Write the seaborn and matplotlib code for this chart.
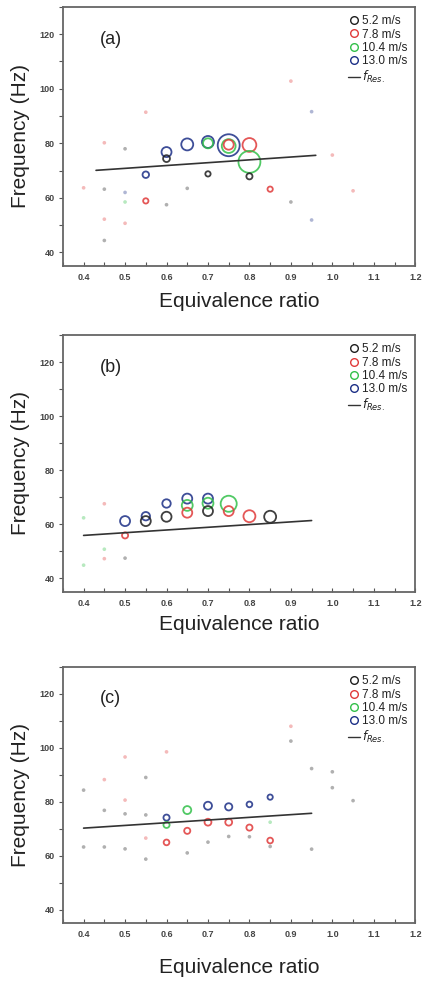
import matplotlib
matplotlib.use("Agg")
import matplotlib.pyplot as plt
from matplotlib.lines import Line2D
from matplotlib.ticker import MultipleLocator
import seaborn as sns
import pandas as pd

sns.set_style("ticks")
plt.rcParams['font.family'] = ['Liberation Sans', 'DejaVu Sans']

speeds = [5.2, 7.8, 10.4, 13.0]
speed_labels = ["5.2 m/s", "7.8 m/s", "10.4 m/s", "13.0 m/s"]
colors = ["#1e1e1e", "#e03a3a", "#33c04a", "#1c2f86"]

# panel (a) - dominant peaks
a_phi = [0.55, 0.60, 0.60, 0.65, 0.70, 0.70, 0.75, 0.75, 0.75, 0.80, 0.80, 0.80, 0.70, 0.55, 0.85]
a_freq = [68.5, 76.8, 74.4, 79.6, 80.5, 80.0, 79.3, 79.0, 79.5, 79.4, 73.2, 67.9, 68.8, 58.9, 63.2]
a_speed = [13.0, 13.0, 5.2, 13.0, 13.0, 10.4, 13.0, 10.4, 7.8, 7.8, 10.4, 5.2, 5.2, 7.8, 7.8]
a_amp = [1.4, 2.6, 1.5, 3.5, 3.5, 2.6, 10.6, 4.5, 2.6, 4.5, 10.6, 1.3, 1.1, 1.1, 1.1]
# panel (a) - weak peaks
a_dot_phi = [0.45, 0.50, 0.50, 0.60, 0.65, 0.90, 0.95, 0.90, 0.95, 0.55, 0.50, 0.45, 1.00, 1.05, 0.45, 0.50, 0.45, 0.40]
a_dot_freq = [63.2, 62.0, 58.5, 57.5, 63.5, 58.5, 51.9, 102.8, 91.6, 91.4, 78.0, 80.2, 75.7, 62.6, 52.2, 50.7, 44.4, 63.7]
a_dot_speed = [5.2, 13.0, 10.4, 5.2, 5.2, 5.2, 13.0, 7.8, 13.0, 7.8, 5.2, 7.8, 7.8, 7.8, 7.8, 7.8, 5.2, 7.8]
a_res_phi = [0.43, 0.96]
a_res_freq = [70.1, 75.6]

# panel (b)
b_phi = [0.50, 0.50, 0.55, 0.55, 0.60, 0.60, 0.65, 0.65, 0.65, 0.70, 0.70, 0.70, 0.75, 0.75, 0.80, 0.85]
b_freq = [61.2, 55.9, 63.0, 61.2, 67.7, 62.8, 69.5, 67.0, 64.3, 69.5, 67.8, 64.9, 67.6, 64.9, 63.0, 62.8]
b_speed = [13.0, 7.8, 13.0, 5.2, 13.0, 5.2, 13.0, 10.4, 7.8, 13.0, 10.4, 5.2, 10.4, 7.8, 7.8, 5.2]
b_amp = [2.6, 1.3, 2.0, 2.6, 2.0, 2.6, 2.6, 3.0, 2.6, 2.6, 3.0, 2.6, 5.9, 2.6, 3.5, 3.5]
b_dot_phi = [0.40, 0.45, 0.45, 0.45, 0.50, 0.40]
b_dot_freq = [62.4, 67.6, 50.8, 47.3, 47.5, 44.9]
b_dot_speed = [10.4, 7.8, 10.4, 7.8, 5.2, 10.4]
b_res_phi = [0.40, 0.95]
b_res_freq = [55.9, 61.4]

# panel (c)
c_phi = [0.60, 0.60, 0.65, 0.70, 0.75, 0.70, 0.75, 0.65, 0.60, 0.80, 0.85, 0.80, 0.85]
c_freq = [74.1, 71.4, 76.9, 78.5, 78.1, 72.4, 72.4, 69.2, 64.9, 70.4, 65.6, 79.0, 81.7]
c_speed = [13.0, 10.4, 10.4, 13.0, 13.0, 7.8, 7.8, 7.8, 7.8, 7.8, 7.8, 13.0, 13.0]
c_amp = [1.3, 1.3, 1.85, 1.85, 1.6, 1.5, 1.5, 1.3, 1.2, 1.3, 1.2, 1.2, 1.1]
c_dot_phi = [0.85, 0.70, 0.75, 0.80, 0.85, 0.55, 0.45, 0.50, 0.50, 0.50, 0.55, 0.55, 0.90, 0.90,
             0.95, 1.00, 1.00, 1.05, 0.40, 0.45, 0.60, 0.55, 0.40, 0.45, 0.50, 0.65, 0.95]
c_dot_freq = [72.4, 65.0, 67.1, 67.0, 63.4, 58.7, 76.8, 75.5, 80.6, 96.6, 89.0, 75.1, 108.0, 102.5,
              92.3, 91.1, 85.2, 80.4, 84.3, 88.2, 98.5, 66.5, 63.2, 63.2, 62.5, 61.0, 62.4]
c_dot_speed = [10.4, 5.2, 5.2, 5.2, 5.2, 5.2, 5.2, 5.2, 7.8, 7.8, 5.2, 5.2, 7.8, 5.2,
               5.2, 5.2, 5.2, 5.2, 5.2, 7.8, 7.8, 7.8, 5.2, 5.2, 5.2, 5.2, 5.2]
c_res_phi = [0.40, 0.95]
c_res_freq = [70.2, 75.7]

panels = [
    ("(a)", a_phi, a_freq, a_speed, a_amp, a_dot_phi, a_dot_freq, a_dot_speed, a_res_phi, a_res_freq),
    ("(b)", b_phi, b_freq, b_speed, b_amp, b_dot_phi, b_dot_freq, b_dot_speed, b_res_phi, b_res_freq),
    ("(c)", c_phi, c_freq, c_speed, c_amp, c_dot_phi, c_dot_freq, c_dot_speed, c_res_phi, c_res_freq),
]

pal = dict(zip(speeds, colors))
fig = plt.figure(figsize=(4.22, 9.82), dpi=100)
boxes = [[0.149, 0.729, 0.835, 0.264],
         [0.149, 0.3972, 0.835, 0.2617],
         [0.149, 0.0601, 0.835, 0.2607]]
xlab_y = [-0.10, -0.09, -0.135]

for i, (tag, phi, freq, spd, amp, dphi, dfreq, dspd, rphi, rfreq) in enumerate(panels):
    ax = fig.add_axes(boxes[i])
    dots = pd.DataFrame({"phi": dphi, "freq": dfreq, "speed": dspd})
    sns.scatterplot(data=dots, x="phi", y="freq", hue="speed", palette=pal, s=7,
                    alpha=0.35, linewidth=0, legend=False, ax=ax)
    df = pd.DataFrame({"phi": phi, "freq": freq, "speed": spd, "amp": amp})
    sns.scatterplot(data=df, x="phi", y="freq", hue="speed", palette=pal, size="amp",
                    sizes=(12, 260), size_norm=(1, 11), legend=False, ax=ax)
    coll = ax.collections[-1]
    fc = coll.get_facecolors()
    coll.set_edgecolors(fc)
    coll.set_facecolors("none")
    coll.set_linewidth(1.3)
    coll.set_alpha(0.85)
    sns.lineplot(x=rphi, y=rfreq, color="#333333", lw=1.2, ax=ax)

    ax.set_xlim(0.35, 1.2)
    ax.set_ylim(35, 130)
    ax.xaxis.set_major_locator(MultipleLocator(0.1))
    ax.xaxis.set_minor_locator(MultipleLocator(0.05))
    ax.yaxis.set_major_locator(MultipleLocator(20))
    ax.yaxis.set_minor_locator(MultipleLocator(10))
    ax.tick_params(axis="x", which="both", direction="in", length=3, width=0.8,
                   colors="#555555", labelsize=6.5, pad=5)
    ax.tick_params(axis="y", which="both", direction="out", length=3, width=0.8,
                   colors="#555555", labelsize=6.5, pad=3)
    for lab in ax.get_xticklabels() + ax.get_yticklabels():
        lab.set_fontweight("bold")
        lab.set_color("#444444")
    for sp in ax.spines.values():
        sp.set_visible(True)
        sp.set_color("#666666")
        sp.set_linewidth(1.3)

    ax.set_xlabel("Equivalence ratio", fontsize=15, color="#222222")
    ax.set_ylabel("Frequency (Hz)", fontsize=15, color="#222222")
    ax.xaxis.set_label_coords(0.5, xlab_y[i])
    ax.yaxis.set_label_coords(-0.093, 0.5)
    ax.text(0.105, 0.875, tag, transform=ax.transAxes, fontsize=13,
            ha="left", va="center", color="#222222")

    handles = [Line2D([], [], marker="o", ls="none", markersize=5.5,
                      markerfacecolor="none", markeredgecolor=c, markeredgewidth=1.0)
               for c in colors]
    handles.append(Line2D([], [], color="#333333", lw=1.0))
    labels = speed_labels + [r"$f_{Res.}$"]
    ax.legend(handles, labels, loc="upper right", frameon=False, fontsize=8.5,
              handlelength=1.0, handletextpad=0.15, labelspacing=0.12,
              borderaxespad=0.3, labelcolor="#222222")

fig.savefig("out.png", dpi=100)
